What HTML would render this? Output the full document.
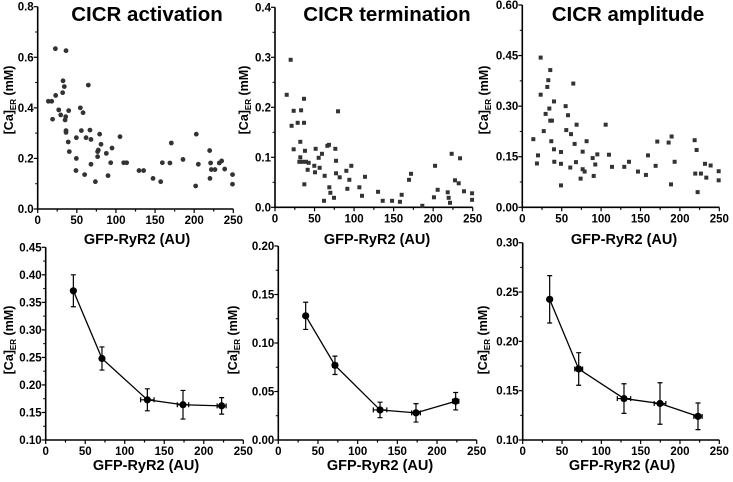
<!DOCTYPE html>
<html><head><meta charset="utf-8"><style>
body{margin:0;background:#fff;width:733px;height:482px;overflow:hidden}
svg{display:block}
text{font-family:"Liberation Sans",Arial,sans-serif;font-weight:bold;fill:#000}
</style></head><body>
<svg id="fig" width="733" height="482" xmlns="http://www.w3.org/2000/svg"></svg>
<script>
// ---- scatter data ----
const actX=[22.6,36.2,13.6,17.9,23,19,32.4,34,31.9,26.9,29.4,39.6,35.8,35,36.2,36.2,39,40.4,54.5,58,64.7,55.8,49.4,49.4,48.9,61.8,66.8,68.1,60,68.1,73.7,79.2,80.9,77.5,76.6,76.6,87.7,95,93.3,89.9,105.2,109.9,113.7,129.5,135.4,147.4,157.2,159.3,169,170.8,185.7,201.9,202.7,205.3,219.8,221,220.2,221.9,226.6,232.1,235.1,239,249,249];
const actY=[0.634,0.626,0.426,0.426,0.449,0.355,0.507,0.484,0.46,0.392,0.372,0.389,0.365,0.352,0.31,0.303,0.265,0.227,0.4,0.381,0.49,0.31,0.282,0.2,0.152,0.282,0.312,0.275,0.136,0.177,0.108,0.296,0.256,0.233,0.227,0.207,0.22,0.241,0.183,0.132,0.286,0.183,0.183,0.152,0.152,0.121,0.108,0.183,0.182,0.261,0.196,0.091,0.296,0.177,0.231,0.182,0.121,0.156,0.156,0.182,0.19,0.158,0.136,0.098];
const termX=[14.8,19.8,21,23.6,23.6,28.7,32,33,36.7,36.7,32,30.8,34.4,37.9,39.2,41.3,42.6,37.1,49.7,51.4,50.6,55.2,56.5,59.4,62,62.8,66.2,68.3,68.7,70,74.6,76.3,77.2,77.2,79.7,81.8,90.2,91.5,94,96.5,106.7,110,113.8,130.3,136.2,148,158,160.2,169.5,172,186.3,201,202.4,205.7,218.4,219.6,221.3,223.4,227.6,232.3,234,239,249.2,249.2];
const termY=[0.225,0.295,0.163,0.193,0.116,0.169,0.131,0.194,0.217,0.169,0.1,0.091,0.091,0.113,0.091,0.075,0.089,0.046,0.083,0.117,0.07,0.099,0.079,0.107,0.013,0.063,0.123,0.125,0.04,0.029,0.019,0.117,0.093,0.068,0.192,0.06,0.073,0.037,0.055,0.083,0.04,0.023,0.061,0.031,0.013,0.013,0.011,0.025,0.055,0.067,0.003,0.02,0.083,0.035,0.03,0.019,0.009,0.107,0.054,0.048,0.098,0.032,0.028,0.015];
const ampX=[14,18.6,19.9,23.3,23.3,27.2,29.6,31.7,33,34.3,35.5,35.5,37.6,36.8,40.2,40.2,40.6,49.1,49.1,49.1,55,55.8,58,60.9,61.8,64.7,66.4,68.1,68.9,74,76.6,76.6,79.1,81.6,89.3,90.6,92.6,95.2,105.8,110,113.8,129.4,135.4,146.8,156.9,159.5,169.2,171.3,185.7,189.5,188.7,193.3,218.7,221.2,219.5,222.5,226.7,231.8,233.5,239,249.2,249.2];
const ampY=[0.202,0.13,0.154,0.444,0.334,0.226,0.277,0.357,0.377,0.293,0.407,0.257,0.257,0.196,0.314,0.172,0.135,0.164,0.129,0.065,0.3,0.229,0.273,0.118,0.217,0.367,0.188,0.134,0.245,0.085,0.113,0.165,0.106,0.196,0.146,0.093,0.127,0.157,0.245,0.156,0.12,0.12,0.135,0.106,0.096,0.154,0.123,0.195,0.192,0.21,0.068,0.135,0.199,0.17,0.1,0.045,0.1,0.129,0.088,0.124,0.107,0.08];
// ---- binned means ----
const actMX=[35,71.2,128.6,173.7,222.6];
const actMY=[0.371,0.248,0.173,0.164,0.162];
const actEY=[0.029,0.021,0.02,0.026,0.015];
const actEX=[0,0,8.5,7.2,5.7];
const termMX=[34.5,71.4,128.2,173.5,223.5];
const termMY=[0.128,0.077,0.031,0.028,0.040];
const termEY=[0.014,0.0095,0.008,0.0095,0.009];
const termEX=[0,3,8.5,5.5,4];
const ampMX=[34.3,71.2,128.8,174.6,222.9];
const ampMY=[0.2426,0.172,0.142,0.137,0.124];
const ampEY=[0.024,0.0165,0.015,0.021,0.0135];
const ampEX=[0,5,8.5,7.4,5.3];

const NS="http://www.w3.org/2000/svg";
const svg=document.getElementById('fig');
function mk(tag,attrs,parent){const e=document.createElementNS(NS,tag);for(const k in attrs)e.setAttribute(k,attrs[k]);(parent||svg).appendChild(e);return e;}

function panel(name,cfg){
  const g=mk('g',{});
  
  
  const sx=v=>cfg.x0+(v-0)/250*(cfg.x1-cfg.x0);
  const sy=v=>cfg.y0-(v-cfg.ymin)/(cfg.ymax-cfg.ymin)*(cfg.y0-cfg.y1);
  // axes
  const ax=mk('path',{d:`M${cfg.x0},${cfg.y1}V${cfg.y0}H${cfg.x1}`,fill:'none',stroke:'#000','stroke-width':1.6},g);
  
  
  // x ticks
  for(let v=0;v<=250;v+=25){
    const major=v%50===0;
    mk('line',{x1:sx(v),x2:sx(v),y1:cfg.y0,y2:cfg.y0+(major?4:2.5),stroke:'#000','stroke-width':1.2},g);
    if(major){const t=mk('text',{x:sx(v),y:cfg.y0+15,'text-anchor':'middle','font-size':11.5},g);t.textContent=v;
      
      }
  }
  // y ticks
  const n=Math.round((cfg.ymax-cfg.ymin)/cfg.ystep);
  for(let i=0;i<=n;i++){
    const v=cfg.ymin+i*cfg.ystep;
    mk('line',{x1:cfg.x0-4,x2:cfg.x0,y1:sy(v),y2:sy(v),stroke:'#000','stroke-width':1.2},g);
    if(i<n)mk('line',{x1:cfg.x0-2.5,x2:cfg.x0,y1:sy(v+cfg.ystep/2),y2:sy(v+cfg.ystep/2),stroke:'#000','stroke-width':1},g);
    const t=mk('text',{x:cfg.x0-4,y:sy(v)+4,'text-anchor':'end','font-size':11.5},g);t.textContent=v.toFixed(cfg.dec);
    
    
  }
  // y title
  const yt=mk('text',{transform:`translate(${cfg.ytx},${cfg.yty}) rotate(-90)`,'text-anchor':'middle','font-size':12.5},g);
  yt.innerHTML='[Ca]<tspan font-size="8" dy="3">ER</tspan><tspan dy="-3"> (mM)</tspan>';
  
  
  const xt=mk('text',{x:cfg.xtx,y:cfg.xty,'text-anchor':'middle','font-size':14.5},g);
  xt.textContent='GFP-RyR2 (AU)';
  
  
  if(cfg.title){const tt=mk('text',{x:cfg.ttx,y:21,'text-anchor':'middle','font-size':20.5},g);tt.textContent=cfg.title;
    
    }
  // data
  if(cfg.sx){
    cfg.sx.forEach((xv,i)=>{
      let m;
      if(cfg.shape==='circle')m=mk('circle',{cx:sx(xv),cy:sy(cfg.sy[i]),r:2.4,fill:'#333'},g);
      else m=mk('rect',{x:sx(xv)-2,y:sy(cfg.sy[i])-2,width:4,height:4,fill:'#333'},g);
      
      
    });
  } else {
    const pts=cfg.mx.map((xv,i)=>`${sx(xv)},${sy(cfg.my[i])}`).join(' ');
    const pl=mk('polyline',{points:pts,fill:'none',stroke:'#000','stroke-width':1.3},g);
    
    
    cfg.mx.forEach((xv,i)=>{
      const X=sx(xv),Y=sy(cfg.my[i]),t=sy(cfg.my[i]+cfg.ey[i]),b=sy(cfg.my[i]-cfg.ey[i]);
      mk('path',{d:`M${X},${t}V${b}M${X-2.5},${t}H${X+2.5}M${X-2.5},${b}H${X+2.5}`,stroke:'#000','stroke-width':1.2,fill:'none'},g);
      if(cfg.ex[i]>0){const l=sx(xv-cfg.ex[i]),r=sx(xv+cfg.ex[i]);
        mk('path',{d:`M${l},${Y}H${r}M${l},${Y-2.5}V${Y+2.5}M${r},${Y-2.5}V${Y+2.5}`,stroke:'#000','stroke-width':1.2,fill:'none'},g);}
      const c=mk('circle',{cx:X,cy:Y,r:3.6,fill:'#000'},g);
      
      
    });
  }
}
panel('activation-scatter',{x0:37.7,x1:233.3,y0:209,y1:6.7,ymin:0,ymax:0.8,ystep:0.2,dec:1,ytx:13,yty:100,xtx:137,xty:244,title:'CICR activation',ttx:147,sx:actX,sy:actY,shape:'circle'});
panel('termination-scatter',{x0:275,x1:472.7,y0:207.3,y1:7.3,ymin:0,ymax:0.4,ystep:0.1,dec:1,ytx:248,yty:100,xtx:377,xty:244,title:'CICR termination',ttx:387,sx:termX,sy:termY,shape:'rect'});
panel('amplitude-scatter',{x0:522.3,x1:719.3,y0:207.3,y1:5,ymin:0,ymax:0.6,ystep:0.15,dec:2,ytx:488,yty:100,xtx:624,xty:244,title:'CICR amplitude',ttx:628,sx:ampX,sy:ampY,shape:'rect'});
panel('activation-means',{x0:45.7,x1:243.3,y0:440,y1:247.3,ymin:0.1,ymax:0.45,ystep:0.05,dec:2,ytx:13,yty:340,xtx:146,xty:470,mx:actMX,my:actMY,ey:actEY,ex:actEX});
panel('termination-means',{x0:278.3,x1:476.7,y0:440,y1:246,ymin:0,ymax:0.2,ystep:0.05,dec:2,ytx:237,yty:340,xtx:380,xty:470,mx:termMX,my:termMY,ey:termEY,ex:termEX});
panel('amplitude-means',{x0:522.7,x1:719.3,y0:440,y1:242.7,ymin:0.1,ymax:0.3,ystep:0.05,dec:2,ytx:487,yty:340,xtx:622,xty:470,mx:ampMX,my:ampMY,ey:ampEY,ex:ampEX});
</script>
</body></html>
